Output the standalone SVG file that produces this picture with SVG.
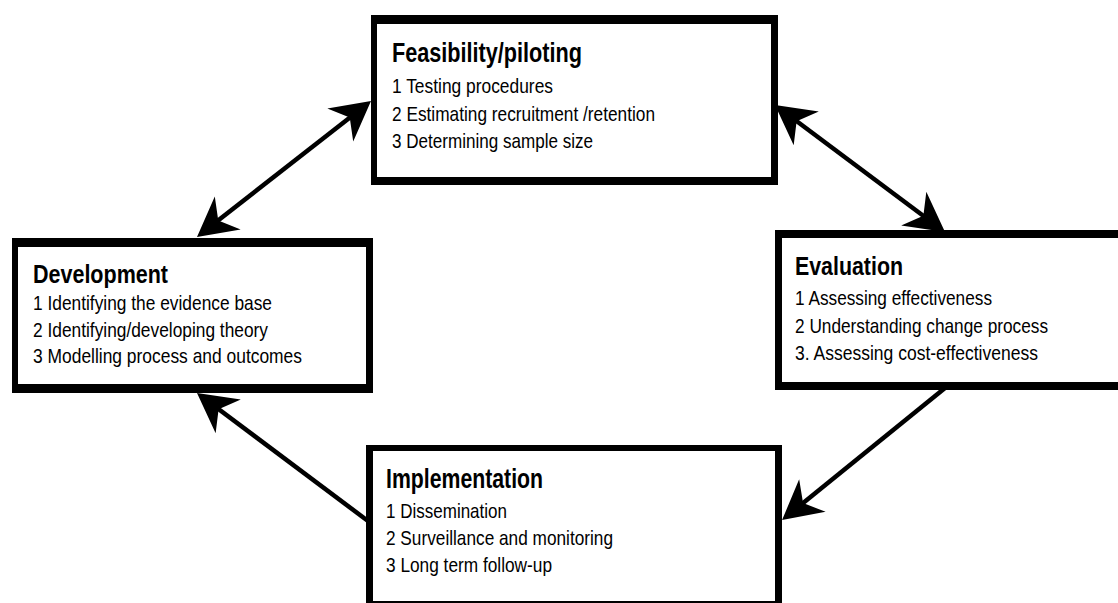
<svg xmlns="http://www.w3.org/2000/svg" width="1118" height="603" viewBox="0 0 1118 603">
<style>
.frame{fill:#000}
.inner{fill:#fff}
.title{font-family:"Liberation Sans",Arial,sans-serif;font-weight:bold;fill:#000}
.item{font-family:"Liberation Sans",Arial,sans-serif;font-size:21px;fill:#000}
.conn{stroke:#000;stroke-width:4.5;fill:none}
</style>
<defs>
<marker id="ah" markerUnits="userSpaceOnUse" orient="auto-start-reverse" overflow="visible" refX="0" refY="0" markerWidth="1" markerHeight="1">
<path d="M8,0 L-31,-21 L-19,0 L-31,21 Z" fill="#000"/>
</marker>
</defs>
<rect x="0" y="0" width="1118" height="603" fill="#fff"/>
<g id="connectors">
<line class="conn" x1="203.3" y1="232.1" x2="364.7" y2="105.9" marker-start="url(#ah)" marker-end="url(#ah)"/>
<line class="conn" x1="781.4" y1="109.8" x2="938.6" y2="227.2" marker-start="url(#ah)" marker-end="url(#ah)"/>
<line class="conn" x1="945" y1="388" x2="788.3" y2="515" marker-end="url(#ah)"/>
<line class="conn" x1="368" y1="521" x2="203.4" y2="397.8" marker-end="url(#ah)"/>
</g>
<g id="feasibility">
<rect class="frame" x="371" y="15" width="407" height="170"/>
<rect class="inner" x="377" y="24" width="394" height="153"/>
<text class="title" x="392" y="62" font-size="28" textLength="190" lengthAdjust="spacingAndGlyphs">Feasibility/piloting</text>
<text class="item" x="392" y="93" textLength="161" lengthAdjust="spacingAndGlyphs">1 Testing procedures</text>
<text class="item" x="392" y="121" textLength="263" lengthAdjust="spacingAndGlyphs">2 Estimating recruitment /retention</text>
<text class="item" x="392" y="148" textLength="201" lengthAdjust="spacingAndGlyphs">3 Determining sample size</text>
</g>
<g id="development">
<rect class="frame" x="12" y="238" width="361" height="155"/>
<rect class="inner" x="18" y="247" width="348" height="137"/>
<text class="title" x="33" y="283" font-size="25" textLength="135" lengthAdjust="spacingAndGlyphs">Development</text>
<text class="item" x="33" y="310" textLength="239" lengthAdjust="spacingAndGlyphs">1 Identifying the evidence base</text>
<text class="item" x="33" y="337" textLength="235" lengthAdjust="spacingAndGlyphs">2 Identifying/developing theory</text>
<text class="item" x="33" y="363" textLength="269" lengthAdjust="spacingAndGlyphs">3 Modelling process and outcomes</text>
</g>
<g id="evaluation">
<rect class="frame" x="775" y="230" width="360" height="160"/>
<rect class="inner" x="782" y="238" width="360" height="144"/>
<text class="title" x="795" y="275" font-size="25" font-weight="normal" textLength="108" lengthAdjust="spacingAndGlyphs">Evaluation</text>
<text class="item" x="795" y="305" textLength="197" lengthAdjust="spacingAndGlyphs">1 Assessing effectiveness</text>
<text class="item" x="795" y="333" textLength="253" lengthAdjust="spacingAndGlyphs">2 Understanding change process</text>
<text class="item" x="795" y="360" textLength="243" lengthAdjust="spacingAndGlyphs">3. Assessing cost-effectiveness</text>
</g>
<g id="implementation">
<rect class="frame" x="366" y="445" width="416" height="170"/>
<rect class="inner" x="373" y="451" width="402" height="150"/>
<text class="title" x="386" y="488" font-size="28" textLength="157" lengthAdjust="spacingAndGlyphs">Implementation</text>
<text class="item" x="386" y="518" textLength="121" lengthAdjust="spacingAndGlyphs">1 Dissemination</text>
<text class="item" x="386" y="545" textLength="227" lengthAdjust="spacingAndGlyphs">2 Surveillance and monitoring</text>
<text class="item" x="386" y="572" textLength="166" lengthAdjust="spacingAndGlyphs">3 Long term follow-up</text>
</g>
</svg>
